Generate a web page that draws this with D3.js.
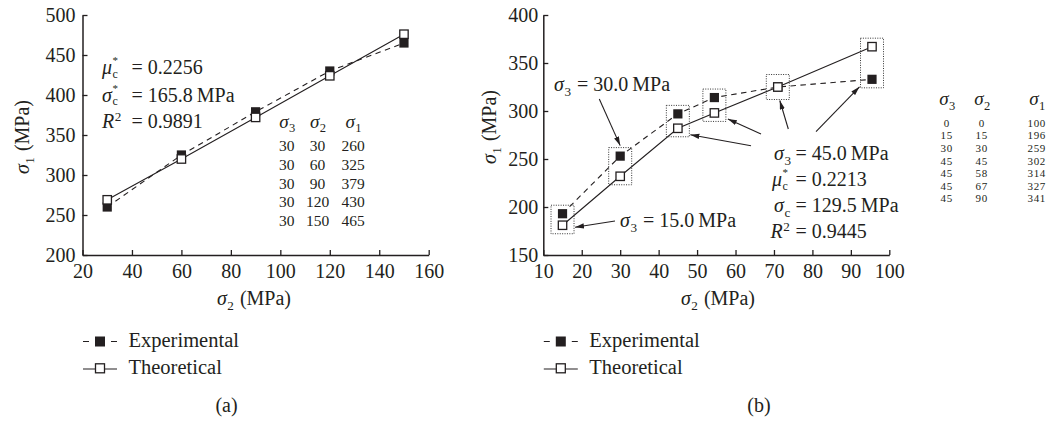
<!DOCTYPE html>
<html><head><meta charset="utf-8">
<script src="https://cdn.jsdelivr.net/npm/d3@7"></script>
<style>
body{margin:0;background:#fff}
text{font-family:"Liberation Serif","Times New Roman",serif;fill:#231f20}
</style>
</head><body>
<svg id="c" width="1051" height="424"></svg>
<script>
// ---------- data ----------
const aSigma2 = [30, 60, 90, 120, 150];
const aExperimental = [260, 325, 379, 430, 465];
const aTheoretical = [269, 320, 372, 424, 476];
const aXTicks = [20, 40, 60, 80, 100, 120, 140, 160];
const aYTicks = [200, 250, 300, 350, 400, 450, 500];
const aTableRows = [[30, 30, 260], [30, 60, 325], [30, 90, 379], [30, 120, 430], [30, 150, 465]];

const bSigma2 = [15, 30, 45, 54.5, 71, 95.5];
const bExperimental = [193, 253, 297, 314, 325, 333];
const bTheoretical = [181, 232, 282, 298, 325, 367];
const bXTicks = [10, 20, 30, 40, 50, 60, 70, 80, 90, 100];
const bYTicks = [150, 200, 250, 300, 350, 400];
const bTableRows = [[0, 0, 100], [15, 15, 196], [30, 30, 259], [45, 45, 302], [45, 58, 314], [45, 67, 327], [45, 90, 341]];

const legendLabels = ["Experimental", "Theoretical"];
const INK = "#231f20";

const svg = d3.select("#c");
const defs = svg.append("defs");
defs.append("marker").attr("id", "arr").attr("markerUnits", "userSpaceOnUse")
  .attr("markerWidth", 10).attr("markerHeight", 6).attr("refX", 9).attr("refY", 2.6)
  .attr("orient", "auto")
  .append("path").attr("d", "M0,0 L9,2.6 L0,5.2 z").attr("fill", INK);

// rich text helper (single <text> with tspans): parts = {t, it, x} or {sup, sub}
function rich(parent, x, y, parts, size, anchor) {
  const t = parent.append("text").attr("font-size", size);
  let cx = 0, base = 0;
  function span(txt, o) {
    const s = t.append("tspan").attr("x", o.x).attr("dy", o.y - base).text(txt);
    base = o.y;
    if (o.size) s.attr("font-size", o.size);
    if (o.it) s.attr("font-style", "italic");
    return s.node().getComputedTextLength();
  }
  parts.forEach(p => {
    if (p.sup !== undefined && p.sub !== undefined) {
      let w = span(p.sup, {x: cx, y: -size * 0.5, size: size * 0.55});
      w = Math.max(w, span(p.sub, {x: cx, y: size * 0.18, size: size * 0.6}));
      cx += w + 1;
    } else if (p.sup !== undefined) {
      cx += span(p.sup, {x: cx, y: -size * 0.36, size: size * 0.66}) + 1;
    } else if (p.sub !== undefined) {
      cx += span(p.sub, {x: cx, y: size * 0.24, size: size * 0.66}) + 1;
    } else {
      if (p.x !== undefined) cx = p.x;
      const w = span(p.t, {x: cx, y: 0, it: p.it});
      cx += w + (p.it ? 0.5 : 0);
    }
  });
  const dx = anchor === "end" ? -cx : anchor === "middle" ? -cx / 2 : 0;
  t.attr("transform", `translate(${x + dx},${y})`);
  return t;
}
const S = (n) => [{t: "\u03c3", it: true}, {sub: String(n)}];

function panel(cfg) {
  const g = svg.append("g");
  const x = d3.scaleLinear().domain(cfg.xDomain).range(cfg.xRange);
  const y = d3.scaleLinear().domain(cfg.yDomain).range([255, 15]);

  const xa = g.append("g").attr("transform", `translate(0,${y(cfg.yDomain[0])})`)
    .call(d3.axisBottom(x).tickValues(cfg.xTicks).tickSizeInner(-5).tickSizeOuter(0).tickPadding(9));
  const ya = g.append("g").attr("transform", `translate(${x(cfg.xDomain[0])},0)`)
    .call(d3.axisLeft(y).tickValues(cfg.yTicks).tickSizeInner(-5).tickSizeOuter(0).tickPadding(cfg.yPad));
  [xa, ya].forEach(a => {
    a.attr("font-family", null);
    a.selectAll("path").attr("stroke", INK).attr("stroke-width", 1.5);
    a.selectAll("line").attr("stroke", INK).attr("stroke-width", 1.3);
    a.selectAll("text").attr("font-size", 20).attr("fill", INK)
      .attr("font-family", '"Liberation Serif","Times New Roman",serif');
  });

  const exp = cfg.s2.map((d, i) => [d, cfg.exp[i]]);
  const theo = cfg.s2.map((d, i) => [d, cfg.theo[i]]);
  const line = d3.line().x(d => x(d[0])).y(d => y(d[1]));

  g.append("path").attr("d", line(exp)).attr("fill", "none").attr("stroke", INK)
    .attr("stroke-width", 1.1).attr("stroke-dasharray", "5.5,4.5");
  g.append("path").attr("d", line(theo)).attr("fill", "none").attr("stroke", INK).attr("stroke-width", 1.1);

  g.selectAll(".ex").data(exp).enter().append("rect")
    .attr("x", d => x(d[0]) - 4.6).attr("y", d => y(d[1]) - 4.6)
    .attr("width", 9.2).attr("height", 9.2).attr("fill", INK);
  g.selectAll(".th").data(theo).enter().append("rect")
    .attr("x", d => x(d[0]) - 4.2).attr("y", d => y(d[1]) - 4.2)
    .attr("width", 8.4).attr("height", 8.4).attr("fill", "#fff").attr("stroke", INK).attr("stroke-width", 1.3);

  // axis titles
  rich(g, cfg.xTitleX, 305, [...S(2), {t: "\u00a0(MPa)"}], 20, "middle");
  const yt = g.append("g").attr("transform", `translate(${cfg.yTitleX},${cfg.yTitleY}) rotate(-90)`);
  rich(yt, 0, 0, [...S(1), {t: "\u00a0(MPa)"}], 20, "middle");

  // legend
  const lx = x(cfg.xDomain[0]) + 0.5;
  const lg = g.append("g");
  lg.append("line").attr("x1", lx).attr("x2", lx + 34).attr("y1", 341.5).attr("y2", 341.5)
    .attr("stroke", INK).attr("stroke-width", 1.2).attr("stroke-dasharray", "6,22");
  lg.append("rect").attr("x", lx + 12).attr("y", 336.5).attr("width", 10).attr("height", 10).attr("fill", INK);
  lg.append("line").attr("x1", lx).attr("x2", lx + 34).attr("y1", 369).attr("y2", 369)
    .attr("stroke", INK).attr("stroke-width", 1.2);
  lg.append("rect").attr("x", lx + 12.5).attr("y", 363.8).attr("width", 9).attr("height", 9)
    .attr("fill", "#fff").attr("stroke", INK).attr("stroke-width", 1.3);
  lg.selectAll(".lt").data(legendLabels).enter().append("text")
    .attr("x", lx + 45.5).attr("y", (d, i) => 346.5 + i * 27.8).attr("font-size", 20.5).text(d => d);

  g.append("text").attr("x", cfg.tagX).attr("y", 412).attr("font-size", 20)
    .attr("text-anchor", "middle").text(cfg.tag);
  return {g, x, y};
}

// ---------- panel (a) ----------
const A = panel({xDomain: [20, 160], xRange: [82.5, 428.7], yDomain: [200, 500],
  xTicks: aXTicks, yTicks: aYTicks, yPad: 7, s2: aSigma2, exp: aExperimental, theo: aTheoretical,
  xTitleX: 254, yTitleX: 29, yTitleY: 137, tagX: 226.5, tag: "(a)"});

const aEq = [
  [[{t: "\u03bc", it: true}, {sup: "*", sub: "c"}], "=\u00a00.2256", 74],
  [[{t: "\u03c3", it: true}, {sup: "*", sub: "c"}], "=\u00a0165.8\u2009MPa", 101.7],
  [[{t: "R", it: true}, {sup: "2"}], "=\u00a00.9891", 128.3]
];
aEq.forEach(e => rich(A.g, 102, e[2], [...e[0], {t: e[1], x: 29.5}], 20, "start"));

const aCols = [286.8, 317.5, 353];
[0, 1, 2].forEach(i => rich(A.g, aCols[i] + 1, 127.7, S([3, 2, 1][i]), 19, "middle"));
aTableRows.forEach((r, ri) => r.forEach((v, ci) => A.g.append("text").attr("x", aCols[ci])
  .attr("y", 150.7 + ri * 18.9).attr("font-size", 15.5).attr("text-anchor", "middle").text(v)));

// ---------- panel (b) ----------
const B = panel({xDomain: [10, 100], xRange: [543.3, 889.3], yDomain: [150, 400],
  xTicks: bXTicks, yTicks: bYTicks, yPad: 5, s2: bSigma2, exp: bExperimental, theo: bTheoretical,
  xTitleX: 718, yTitleX: 496, yTitleY: 127, tagX: 759, tag: "(b)"});

const boxes = bSigma2.map((s, i) => {
  const cx = B.x(s);
  let y0 = B.y(Math.max(bExperimental[i], bTheoretical[i])) - 8.5;
  let y1 = B.y(Math.min(bExperimental[i], bTheoretical[i])) + 8.5;
  if (y1 - y0 < 25) { const m = (y0 + y1) / 2; y0 = m - 12.5; y1 = m + 12.5; }
  return {cx, x0: cx - 11.5, x1: cx + 11.5, y0, y1};
});
B.g.selectAll(".bx").data(boxes).enter().append("rect")
  .attr("x", d => d.x0).attr("y", d => d.y0).attr("width", d => d.x1 - d.x0).attr("height", d => d.y1 - d.y0)
  .attr("fill", "none").attr("stroke", "#333").attr("stroke-width", 1).attr("stroke-dasharray", "1,1.4");

const arrows = [
  {tail: [599.3, 99], tip: b => [b.cx, b.y0 - 2], i: 1},
  {tail: [615, 221], tip: b => [b.x1 + 1, B.y(bTheoretical[0]) + 2], i: 0},
  {tail: [751, 145.7], tip: b => [b.x1 + 1, b.y1 - 2], i: 2},
  {tail: [761, 134], tip: b => [b.x1 + 2, b.y1 - 2.5], i: 3},
  {tail: [788.3, 129], tip: b => [b.cx + 2, b.y1 + 1], i: 4},
  {tail: [816, 131.7], tip: b => [b.x0 - 1, b.y1 - 1], i: 5}
];
arrows.forEach(a => {
  const t = a.tip(boxes[a.i]);
  B.g.append("line").attr("x1", a.tail[0]).attr("y1", a.tail[1]).attr("x2", t[0]).attr("y2", t[1])
    .attr("stroke", INK).attr("stroke-width", 1.1).attr("marker-end", "url(#arr)");
});

rich(B.g, 554, 90.7, [...S(3), {t: "\u00a0=\u00a030.0\u2009MPa"}], 20, "start");
rich(B.g, 620, 227.3, [...S(3), {t: "\u00a0=\u00a015.0\u2009MPa"}], 20, "start");
const bEq = [
  [S(3), "=\u00a045.0\u2009MPa", 160, 774],
  [[{t: "\u03bc", it: true}, {sup: "*", sub: "c"}], "=\u00a00.2213", 186, 772],
  [[{t: "\u03c3", it: true}, {sub: "c"}], "=\u00a0129.5\u2009MPa", 211.7, 774],
  [[{t: "R", it: true}, {sup: "2"}], "=\u00a00.9445", 238.3, 770.5]
];
bEq.forEach(e => rich(B.g, e[3], e[2], [...e[0], {t: e[1], x: 795.5 - e[3]}], 20, "start"));

const bCols = [946.7, 981.7, 1036.7];
[0, 1, 2].forEach(i => rich(B.g, bCols[i] + 1, 105, S([3, 2, 1][i]), 19, "middle"));
bTableRows.forEach((r, ri) => r.forEach((v, ci) => B.g.append("text").attr("x", bCols[ci])
  .attr("y", 126.7 + ri * 12.6).attr("font-size", 11).attr("letter-spacing", 0.6)
  .attr("text-anchor", "middle").text(v)));
</script>
</body></html>
